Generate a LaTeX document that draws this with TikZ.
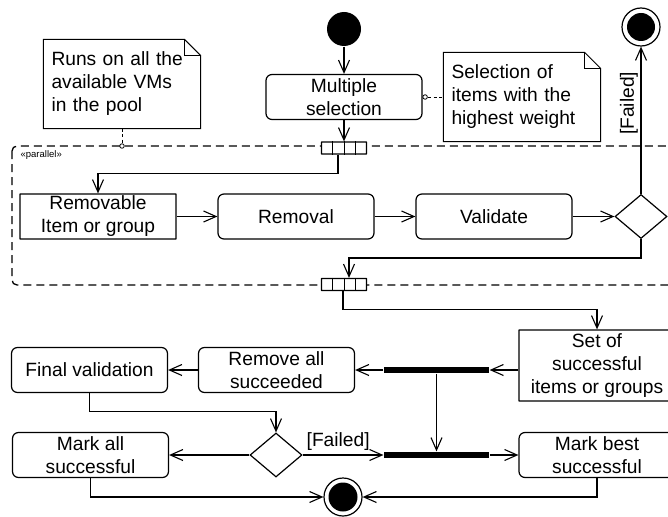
\documentclass[tikz,border=0pt]{standalone}
\usepackage{fontspec}
\setmainfont{Liberation Sans}
\usetikzlibrary{arrows.meta,shapes.geometric}
\begin{document}
\begin{tikzpicture}[x=1pt,y=-1pt, line width=1.2pt, line join=miter,
  >={Straight Barb[length=12.5pt,width=11pt,line width=1.1pt]},
  arr/.style={->},
  txt/.style={font=\fontsize{19.2}{23}\selectfont},
  act/.style={txt, draw, rounded corners=6pt, minimum width=156pt, minimum height=45pt, align=center, inner sep=0pt},
  obj/.style={txt, draw, rounded corners=0.3pt, minimum width=156pt, minimum height=45pt, align=center, inner sep=0pt},
  notebox/.style={txt, minimum width=156pt, minimum height=88pt, text width=141pt, align=left, inner xsep=7.5pt, inner ysep=0pt},
  pins/.style={draw, rounded corners=0.3pt, minimum width=45pt, minimum height=12pt, inner sep=0pt, fill=white},
  bar/.style={fill=black, minimum width=105pt, minimum height=6pt, inner sep=0pt},
  dec/.style={draw, diamond, aspect=1.18, minimum width=52pt, minimum height=44pt, inner sep=0pt},
  endnode/.style={draw, circle, minimum size=38pt, inner sep=0pt},
  region/.style={line width=1.3pt, dash pattern=on 8pt off 5pt, rounded corners=5pt},
  anchorline/.style={dash pattern=on 3pt off 2.5pt, line width=0.9pt},
  anchordot/.style={draw, circle, fill=white, line width=0.8pt, minimum size=4.5pt, inner sep=0pt},
  lbl/.style={txt, inner sep=2.5pt},
]
\useasboundingbox (0,0) rectangle (668,516);
\clip (0,0) rectangle (668,516);

% expansion region
\draw[region] (12,146) rectangle (700,285);
\node[font=\fontsize{9.5}{11}\selectfont, anchor=west, inner sep=0pt] (par) at (20,155) {«parallel»};

% nodes
\node[circle, fill=black, minimum size=34pt, inner sep=0pt] (start) at (344,29) {};
\node[act] (ms) at (344,97) {Multiple\\selection};
\node[pins] (pinA) at (344,148) {};
\node[pins] (pinB) at (344,284.5) {};
\foreach \p in {pinA,pinB}{
  \foreach \d in {-11.25,0,11.25}{
    \draw[line width=1pt] ([xshift=\d pt]\p.north) -- ([xshift=\d pt]\p.south);
  }
}
\node[obj] (rmv) at (98,216.5) {Removable\\Item or group};
\node[act] (rml) at (296,216.5) {Removal};
\node[act] (val) at (494,216.5) {Validate};
\node[dec] (dec1) at (641,216.5) {};
\node[endnode] (end1) at (641,27) {};
\fill (end1.center) circle (14pt);

\node[obj, minimum height=71pt] (set) at (597,365.5) {Set of\\successful\\items or groups};
\node[bar] (bar1) at (436.5,370) {};
\node[act] (rall) at (276.5,370) {Remove all\\succeeded};
\node[act] (fval) at (89.5,370) {Final validation};
\node[dec] (dec2) at (276,455) {};
\node[act] (mall) at (90.5,455) {Mark all\\successful};
\node[bar] (bar2) at (436.5,455) {};
\node[act] (mbest) at (597,455) {Mark best\\successful};
\node[endnode] (end2) at (343,497) {};
\fill (end2.center) circle (14.5pt);

% notes
\node[notebox] (note1) at (122,84) {Runs on all the\\available VMs\\in the pool};
\draw[line width=1pt] (note1.south west) -- (note1.north west) -- ([xshift=-16pt]note1.north east)
  -- ([yshift=-16pt]note1.north east) -- (note1.south east) -- cycle;
\draw[line width=1pt] ([xshift=-16pt]note1.north east) |- ([yshift=-16pt]note1.north east);
\node[notebox] (note2) at (522,97) {Selection of\\items with the\\highest weight};
\draw[line width=1pt] (note2.south west) -- (note2.north west) -- ([xshift=-16pt]note2.north east)
  -- ([yshift=-16pt]note2.north east) -- (note2.south east) -- cycle;
\draw[line width=1pt] ([xshift=-16pt]note2.north east) |- ([yshift=-16pt]note2.north east);

\coordinate (anc1) at (122,146);
\draw[anchorline] (note1.south) -- (anc1);
\node[anchordot] (dot1) at (anc1) {};
\draw[anchorline] (ms.east) -- (note2.west);
\node[anchordot] (dot2) at ([xshift=2.5pt]ms.east) {};

% connectors
\draw[arr] (start) -- (ms);
\draw[arr] (ms) -- (pinA);
\draw[arr] ([xshift=-6pt]pinA.south) |- ([yshift=20pt]rmv.north) -- (rmv.north);
\draw[arr] (rmv) -- (rml);
\draw[arr] (rml) -- (val);
\draw[arr] (val) -- (dec1);
\draw[arr] (dec1.north) -- node[lbl, pos=0.615, sloped, above] {[Failed]} (end1.south);
\draw[arr] (dec1.south) |- ([yshift=20pt, xshift=5pt]pinB.north) -- ([xshift=5pt]pinB.north);
\draw[arr] ([xshift=-1pt]pinB.south) |- ([yshift=20pt]set.north) -- (set.north);
\draw[arr] (set.west |- bar1) -- (bar1.east);
\draw[arr] (bar1.west) -- (rall.east);
\draw[arr] (rall) -- (fval);
\draw[arr] (fval.south) |- ([yshift=21pt]dec2.north) -- (dec2.north);
\draw[arr] (dec2.west) -- (mall.east);
\draw[arr] (dec2.east) -- node[lbl, pos=0.44, above, inner sep=4pt] {[Failed]} (bar2.west);
\draw[arr] (bar1.south) -- (bar2.north);
\draw[arr] (bar2.east) -- (mbest.west);
\draw[arr] (mbest.south) |- (end2.east);
\draw[arr] (mall.south) |- (end2.west);
\end{tikzpicture}
\end{document}
